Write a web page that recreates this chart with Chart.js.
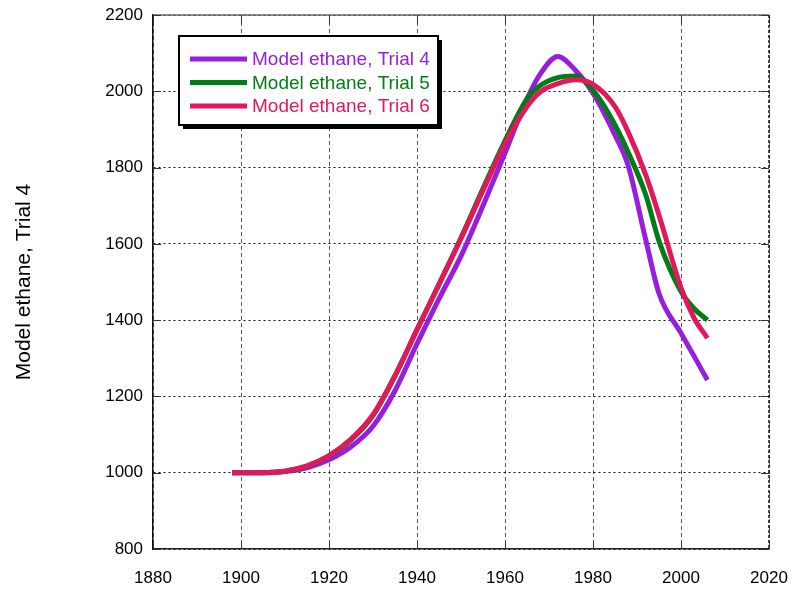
<!DOCTYPE html>
<html>
<head>
<meta charset="utf-8">
<title>Model ethane</title>
<script src="https://cdn.jsdelivr.net/npm/chart.js@4/dist/chart.umd.min.js"></script>
<style>
    html, body { margin: 0; padding: 0; background: #fff; }
    #chart { display: block; }
</style>
</head>
<body>
<canvas id="chart" width="802" height="593"></canvas>
<script>
    // Model years and the three ethane runs
    const years = [1898, 1905, 1910, 1915, 1920, 1925, 1930, 1935, 1940, 1945, 1950, 1955,
                   1960, 1965, 1968, 1972, 1976, 1980, 1985, 1988, 1992, 1995, 2000, 2003, 2006];
    const trial4 = [1000, 1000, 1003, 1013, 1034, 1068, 1122, 1215, 1338, 1456, 1568, 1700,
                    1838, 1980, 2045, 2091, 2055, 1995, 1885, 1805, 1610, 1470, 1366, 1305, 1243];
    const trial5 = [1000, 1000, 1004, 1017, 1044, 1086, 1150, 1253, 1375, 1494, 1616, 1745,
                    1870, 1980, 2015, 2036, 2040, 2003, 1912, 1840, 1728, 1607, 1475, 1430, 1400];
    const trial6 = [1000, 1000, 1004, 1018, 1045, 1088, 1152, 1255, 1375, 1494, 1614, 1740,
                    1862, 1960, 1998, 2020, 2030, 2018, 1960, 1893, 1780, 1675, 1485, 1405, 1353];

    const seriesLabels = ['Model ethane, Trial 4', 'Model ethane, Trial 5', 'Model ethane, Trial 6'];
    const seriesColors = ['rgb(150, 30, 220)', 'rgb(0, 125, 20)', 'rgb(225, 25, 90)'];

    const xTicks = [1880, 1900, 1920, 1940, 1960, 1980, 2000, 2020];
    const yTicks = [800, 1000, 1200, 1400, 1600, 1800, 2000, 2200];

    const FONT = 'Arial, "Liberation Sans", sans-serif';

    function toPoints(values) {
        return values.map((v, i) => ({ x: years[i], y: v }));
    }

    // Top/right frame plus short inward tick marks
    const framePlugin = {
        id: 'frame',
        beforeDatasetsDraw(chart) {
            const { ctx, chartArea: a, scales } = chart;
            ctx.save();
            ctx.strokeStyle = '#666';
            ctx.lineWidth = 1.5;
            ctx.beginPath();
            ctx.moveTo(a.left, a.top);
            ctx.lineTo(a.right, a.top);
            ctx.stroke();

            ctx.strokeStyle = '#111';
            ctx.setLineDash([3, 2]);
            ctx.beginPath();
            ctx.moveTo(a.right, a.top);
            ctx.lineTo(a.right, a.bottom);
            ctx.stroke();
            ctx.setLineDash([]);

            ctx.lineWidth = 1;
            ctx.strokeStyle = '#333';
            xTicks.forEach(v => {
                const px = Math.round(scales.x.getPixelForValue(v)) + 0.5;
                ctx.beginPath();
                ctx.moveTo(px, a.bottom);
                ctx.lineTo(px, a.bottom - 8);
                ctx.moveTo(px, a.top);
                ctx.lineTo(px, a.top + 8);
                ctx.stroke();
            });
            yTicks.forEach(v => {
                const py = Math.round(scales.y.getPixelForValue(v)) + 0.5;
                ctx.beginPath();
                ctx.moveTo(a.left, py);
                ctx.lineTo(a.left + 8, py);
                ctx.moveTo(a.right, py);
                ctx.lineTo(a.right - 8, py);
                ctx.stroke();
            });
            ctx.restore();
        }
    };

    // Boxed legend with a drop shadow
    const legendBoxPlugin = {
        id: 'legendBox',
        afterDraw(chart) {
            const { ctx } = chart;
            const box = { x: 179, y: 36, w: 259, h: 89 };
            ctx.save();
            ctx.fillStyle = '#000';
            ctx.fillRect(box.x + 4, box.y + 4, box.w, box.h);
            ctx.fillStyle = '#fff';
            ctx.fillRect(box.x, box.y, box.w, box.h);
            ctx.strokeStyle = '#000';
            ctx.lineWidth = 2;
            ctx.strokeRect(box.x, box.y, box.w, box.h);

            ctx.font = '19px ' + FONT;
            ctx.textBaseline = 'middle';
            chart.data.datasets.forEach((ds, i) => {
                const y = 59 + i * 23.5;
                ctx.strokeStyle = ds.borderColor;
                ctx.lineWidth = 5;
                ctx.beginPath();
                ctx.moveTo(190, y);
                ctx.lineTo(247, y);
                ctx.stroke();
                ctx.fillStyle = ds.borderColor;
                ctx.fillText(ds.label, 252, y + 1);
            });
            ctx.restore();
        }
    };

    const datasets = [trial4, trial5, trial6].map((values, i) => ({
        label: seriesLabels[i],
        data: toPoints(values),
        borderColor: seriesColors[i],
        backgroundColor: seriesColors[i],
        borderWidth: 5,
        pointRadius: 0,
        fill: false,
        cubicInterpolationMode: 'monotone',
        // later trials drawn on top
        order: 2 - i
    }));

    new Chart(document.getElementById('chart'), {
        type: 'line',
        data: { datasets: datasets },
        options: {
            responsive: false,
            animation: false,
            layout: { padding: { top: 15, right: 33, left: 0, bottom: 0 } },
            plugins: {
                legend: { display: false },
                tooltip: { enabled: false }
            },
            scales: {
                x: {
                    type: 'linear',
                    min: 1880,
                    max: 2020,
                    afterBuildTicks: scale => { scale.ticks = xTicks.map(v => ({ value: v })); },
                    afterFit: scale => {
                        scale.height = 44;
                        // edge labels fit inside the page margins
                        scale.paddingLeft = 0;
                        scale.paddingRight = 0;
                    },
                    grid: { color: '#555', lineWidth: 1, drawTicks: false },
                    border: { color: '#222', width: 1.5, dash: [4, 3] },
                    ticks: {
                        color: '#000',
                        padding: 19,
                        maxRotation: 0,
                        font: { family: FONT, size: 17 },
                        callback: v => String(v)
                    }
                },
                y: {
                    min: 800,
                    max: 2200,
                    afterBuildTicks: scale => { scale.ticks = yTicks.map(v => ({ value: v })); },
                    afterFit: scale => {
                        scale.width = 153;
                        scale.paddingTop = 0;
                        scale.paddingBottom = 0;
                    },
                    grid: { color: '#111', lineWidth: 1, drawTicks: false },
                    border: { color: '#111', width: 1.5, dash: [2, 3] },
                    ticks: {
                        color: '#000',
                        padding: 10,
                        font: { family: FONT, size: 17 },
                        callback: v => String(v)
                    },
                    title: {
                        display: true,
                        text: 'Model ethane, Trial 4',
                        color: '#000',
                        padding: { top: 12, bottom: 0 },
                        font: { family: FONT, size: 21 }
                    }
                }
            }
        },
        plugins: [framePlugin, legendBoxPlugin]
    });
</script>
</body>
</html>
